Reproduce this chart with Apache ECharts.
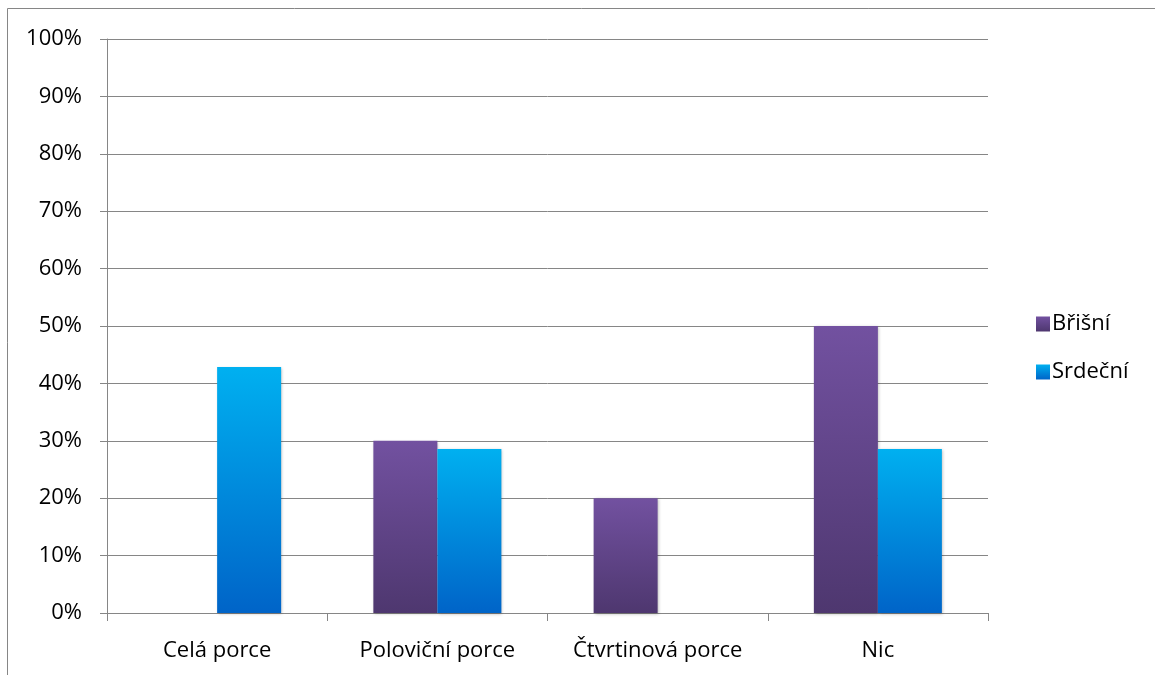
<!DOCTYPE html>
<html>
<head>
<meta charset="utf-8">
<script src="https://cdn.jsdelivr.net/npm/echarts@6/dist/echarts.min.js"></script>
<style>
  html, body { margin: 0; padding: 0; background: #fff; }
  #chart { width: 1155px; height: 675px; }
</style>
</head>
<body>
<div id="chart"></div>
<script>
// Categories and values (share of patients, %)
const categories = ['Celá porce', 'Poloviční porce', 'Čtvrtinová porce', 'Nic'];
const brisni = [0, 30, 20, 50];
const srdecni = [42.86, 28.57, 0, 28.57];
const seriesNames = ['Břišní', 'Srdeční'];

const chart = echarts.init(document.getElementById('chart'));
const font = 'Open Sans, Noto Sans, sans-serif';

function grad(top, bottom) {
  return new echarts.graphic.LinearGradient(0, 0, 0, 1, [
    { offset: 0, color: top },
    { offset: 1, color: bottom }
  ]);
}

const barShadow = {
  shadowBlur: 3,
  shadowColor: 'rgba(0,0,0,0.28)',
  shadowOffsetX: 1,
  shadowOffsetY: 1
};

chart.setOption({
  backgroundColor: '#fff',
  animation: false,
  graphic: [{
    type: 'rect',
    shape: { x: 7.5, y: 8.5, width: 1200, height: 720 },
    style: { fill: 'none', stroke: '#868686', lineWidth: 1 },
    silent: true
  }],
  grid: { left: 107, top: 39, width: 881, height: 574 },
  legend: {
    orient: 'vertical',
    left: 1031,
    top: 308,
    icon: 'rect',
    itemWidth: 14,
    itemHeight: 15,
    itemGap: 26,
    textStyle: { fontFamily: font, fontSize: 22, lineHeight: 22, color: '#000', padding: [0, 0, 0, -3] },
    data: seriesNames
  },
  xAxis: {
    type: 'category',
    data: categories,
    axisLine: { lineStyle: { color: '#868686', width: 1 } },
    axisTick: { show: true, length: 8, lineStyle: { color: '#868686' } },
    axisLabel: { fontFamily: font, fontSize: 22, lineHeight: 22, color: '#000', margin: 27 }
  },
  yAxis: {
    type: 'value',
    min: 0,
    max: 100,
    interval: 10,
    axisLine: { show: true, lineStyle: { color: '#868686', width: 1 } },
    axisTick: { show: true, length: 7, lineStyle: { color: '#868686' } },
    splitLine: { lineStyle: { color: '#868686', width: 1 } },
    axisLabel: {
      fontFamily: font, fontSize: 22, color: '#000', margin: 25,
      formatter: v => v + '%'
    }
  },
  series: [
    {
      name: seriesNames[0],
      type: 'bar',
      data: brisni,
      barWidth: 64,
      barGap: '0%',
      itemStyle: Object.assign({ color: grad('#7251a0', '#4e376f') }, barShadow)
    },
    {
      name: seriesNames[1],
      type: 'bar',
      data: srdecni,
      barWidth: 64,
      barGap: '0%',
      itemStyle: Object.assign({ color: grad('#00b0f0', '#0064c8') }, barShadow)
    }
  ]
});
</script>
</body>
</html>
